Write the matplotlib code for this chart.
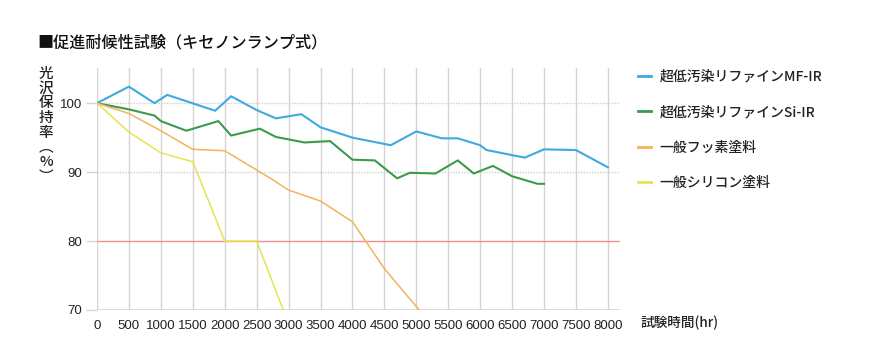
import matplotlib
matplotlib.use("Agg")
import matplotlib.pyplot as plt
from matplotlib.lines import Line2D

plt.rcParams['font.family'] = ['Noto Sans CJK JP', 'DejaVu Sans']

# ---- data ----
mf_x = [0, 500, 900, 1100, 1850, 2100, 2500, 2800, 3200, 3500, 4000, 4600, 5000, 5400, 5650, 6000, 6100, 6700, 7000, 7500, 8000]
mf_y = [100, 102.4, 100.0, 101.2, 98.9, 101.0, 99.0, 97.8, 98.4, 96.5, 95.0, 93.9, 95.9, 94.9, 94.9, 93.9, 93.2, 92.1, 93.3, 93.2, 90.7]

si_x = [0, 500, 900, 1000, 1400, 1900, 2100, 2550, 2800, 3250, 3650, 4000, 4350, 4700, 4900, 5300, 5650, 5900, 6200, 6500, 6900, 7000]
si_y = [100, 99.1, 98.2, 97.4, 96.0, 97.4, 95.3, 96.3, 95.1, 94.3, 94.5, 91.8, 91.7, 89.1, 89.9, 89.8, 91.7, 89.8, 90.9, 89.4, 88.3, 88.3]

fl_x = [0, 500, 1000, 1500, 2000, 2500, 2700, 3000, 3500, 4000, 4500, 5000, 5500]
fl_y = [100, 98.5, 96.0, 93.3, 93.1, 90.3, 89.2, 87.4, 85.8, 82.8, 76.0, 70.5, 65.0]

sc_x = [0, 500, 1000, 1500, 2000, 2500, 3000]
sc_y = [100, 95.8, 92.8, 91.5, 80.0, 80.0, 68.0]

series_names = ['超低汚染リファインMF-IR', '超低汚染リファインSi-IR', '一般フッ素塗料', '一般シリコン塗料']
series_colors = ['#3fa9e0', '#3d9a4c', '#f4b25e', '#e6e450']

x_ticks = list(range(0, 8001, 500))
y_ticks = [70, 80, 90, 100]

title = '■促進耐候性試験（キセノンランプ式）'
ylabel_chars = ['光', '沢', '保', '持', '率', '︵', '%', '︶']
xlabel = '試験時間(hr)'

# ---- figure ----
W, H = 871, 356
fig = plt.figure(figsize=(W / 100, H / 100), dpi=100)
ax = fig.add_axes([97 / W, 1 - 310 / H, (620 - 97) / W, (310 - 68) / H])

ax.set_xlim(0, 8190)
ax.set_ylim(70, 105.1)

# grid
for xt in x_ticks:
    ax.axvline(xt, color='#d4d4d4', lw=1.0, zorder=1)
for yt in [90, 100]:
    ax.axhline(yt, color='#cfcfcf', lw=1.0, ls=(0, (1, 1)), zorder=1)
ax.axhline(80, color='#ec8f8f', lw=1.0, zorder=1)
ax.axhline(70, color='#d4d4d4', lw=1.2, zorder=1)

for s in ax.spines.values():
    s.set_visible(False)

ax.plot(mf_x, mf_y, color=series_colors[0], lw=1.5, zorder=3, clip_on=True)
ax.plot(si_x, si_y, color=series_colors[1], lw=1.5, zorder=3, clip_on=True)
ax.plot(fl_x, fl_y, color=series_colors[2], lw=1.1, zorder=3, clip_on=True)
ax.plot(sc_x, sc_y, color=series_colors[3], lw=1.1, zorder=3, clip_on=True)

ax.set_xticks(x_ticks)
ax.set_xticklabels([str(v) for v in x_ticks])
ax.set_yticks(y_ticks)
ax.set_yticklabels([str(v) for v in y_ticks])
ax.tick_params(axis='x', length=0, pad=7, labelsize=9.5, labelcolor='#222222')
ax.tick_params(axis='y', length=8, width=1, color='#d4d4d4', pad=3, labelsize=9.5, labelcolor='#222222')
for lab in ax.get_xticklabels() + ax.get_yticklabels():
    lab.set_fontfamily(['Liberation Sans', 'DejaVu Sans'])

# title
fig.text(37 / W, 1 - 43 / H, title, fontsize=11.6, color='#111111', va='center', ha='left', weight='medium')

# vertical y label (one stacked text)
fig.text(46 / W, 1 - 67 / H, '\n'.join(ylabel_chars), fontsize=10.5, color='#222222', va='top', ha='center',
         ma='center', linespacing=1.06, weight='medium')

# x label
fig.text(641 / W, 1 - 323 / H, xlabel, fontsize=9.8, color='#222222', va='center', ha='left', weight='medium')

# legend
handles = [Line2D([0], [0], color=c, lw=2) for c in series_colors]
leg = fig.legend(handles, series_names, loc='upper left', bbox_to_anchor=(632 / W, 1 - 64 / H),
                 frameon=False, handlelength=1.0, handletextpad=0.6, labelspacing=1.55,
                 borderaxespad=0, prop={'size': 10, 'weight': 'medium'})
for t in leg.get_texts():
    t.set_color('#222222')

fig.savefig('out.png', dpi=100)
